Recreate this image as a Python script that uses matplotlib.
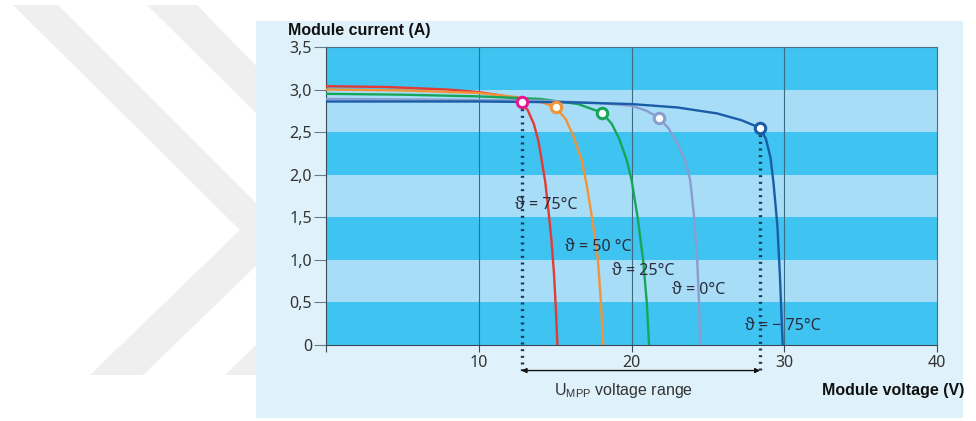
import matplotlib
matplotlib.use("Agg")
import matplotlib.pyplot as plt
from matplotlib.patches import Polygon, Rectangle

plt.rcParams['mathtext.fontset'] = 'custom'
plt.rcParams['mathtext.rm'] = 'Liberation Sans'

# I-V curves (voltage V, current A)
v_75 = [0, 4, 8, 10, 11.5, 12.3, 12.8, 13.2, 13.6, 13.9, 14.12, 14.35, 14.55, 14.75, 14.92, 15.05, 15.15]
i_75 = [3.04, 3.03, 3.00, 2.97, 2.93, 2.89, 2.85, 2.76, 2.60, 2.40, 2.17, 1.92, 1.60, 1.25, 0.85, 0.42, 0.0]

v_50 = [0, 5, 10, 13, 14.3, 15.06, 15.7, 16.2, 16.74, 17.1, 17.45, 17.8, 18.0, 18.15]
i_50 = [3.00, 2.99, 2.96, 2.90, 2.84, 2.79, 2.65, 2.45, 2.17, 1.85, 1.45, 1.0, 0.5, 0.0]

v_25 = [0, 5, 10, 14, 16.5, 18.05, 18.7, 19.2, 19.69, 20.0, 20.4, 20.76, 21.0, 21.15]
i_25 = [2.95, 2.94, 2.92, 2.89, 2.83, 2.73, 2.60, 2.42, 2.17, 1.94, 1.50, 1.0, 0.5, 0.0]

v_0 = [0, 8, 14, 18, 20, 21.0, 21.77, 22.4, 23.0, 23.5, 23.84, 24.1, 24.3, 24.42, 24.5]
i_0 = [2.89, 2.88, 2.87, 2.84, 2.81, 2.75, 2.67, 2.55, 2.37, 2.17, 1.94, 1.50, 1.0, 0.5, 0.0]

v_m75 = [0, 10, 16, 20, 23, 25.6, 27.2, 28.42, 28.8, 29.1, 29.3, 29.55, 29.72, 29.84, 29.9]
i_m75 = [2.86, 2.86, 2.85, 2.83, 2.79, 2.72, 2.64, 2.55, 2.42, 2.20, 1.90, 1.40, 0.80, 0.25, 0.0]

curve_v = [v_75, v_50, v_25, v_0, v_m75]
curve_i = [i_75, i_50, i_25, i_0, i_m75]
curve_colors = ['#e53a33', '#f39237', '#17a55a', '#8a9dd0', '#1a5ca8']
mpp_edge = ['#e2198f', '#f39237', '#17a55a', '#8a9dd0', '#1a5ca8']

# maximum power points
mpp_v = [12.8, 15.06, 18.05, 21.77, 28.42]
mpp_i = [2.85, 2.79, 2.73, 2.67, 2.55]

labels = ['ϑ = 75°C', 'ϑ = 50 °C', 'ϑ = 25°C', 'ϑ = 0°C', 'ϑ = − 75°C']
label_v = [12.4, 15.65, 18.75, 22.65, 27.45]
label_i = [1.645, 1.15, 0.87, 0.645, 0.22]

yticks = [0, 0.5, 1.0, 1.5, 2.0, 2.5, 3.0, 3.5]
ytick_labels = ['0', '0,5', '1,0', '1,5', '2,0', '2,5', '3,0', '3,5']
xticks = [0, 10, 20, 30, 40]
xtick_labels = ['', '10', '20', '30', '40']

W, H = 976, 421
fig = plt.figure(figsize=(W / 100, H / 100), dpi=100)
fig.patch.set_facecolor('white')

# background layer in pixel coordinates (watermark chevrons + panel)
bg = fig.add_axes([0, 0, 1, 1], zorder=0)
bg.set_xlim(0, W)
bg.set_ylim(H, 0)
bg.axis('off')
chev1 = [(13, 5), (58, 5), (288, 235), (143, 375), (90, 375), (240, 230)]
chev2 = [(147, 5), (197, 5), (420, 235), (277, 375), (225, 375), (374, 230)]
for pts in (chev1, chev2):
    bg.add_patch(Polygon(pts, closed=True, facecolor='#efefef', edgecolor='none'))
bg.add_patch(Rectangle((256, 21), 963 - 256, 418 - 21, facecolor='#dff1fb', edgecolor='none'))

ax = fig.add_axes([326 / W, 1 - 345 / H, (937 - 326) / W, (345 - 47) / H], zorder=1)
ax.set_xlim(0, 40)
ax.set_ylim(0, 3.5)

# horizontal bands
for k in range(7):
    col = '#3fc3f0' if k % 2 == 0 else '#a8ddf7'
    ax.axhspan(k * 0.5, (k + 1) * 0.5, color=col, lw=0, zorder=0)
for xv in [10, 20, 30]:
    ax.axvline(xv, color='#3e6b84', lw=0.8, zorder=1)

for v, i, c in zip(curve_v, curve_i, curve_colors):
    ax.plot(v, i, color=c, lw=1.7, zorder=3, solid_capstyle='butt')

# MPP range dotted lines and arrow
for k in (0, 4):
    ax.plot([mpp_v[k], mpp_v[k]], [mpp_i[k], -0.32], color='#1b3657', lw=2.4,
            linestyle=(0, (0.6, 1.4)), clip_on=False, zorder=2)
ax.annotate('', xy=(mpp_v[0], -0.30), xytext=(mpp_v[4], -0.30),
            xycoords='data', annotation_clip=False,
            arrowprops=dict(arrowstyle='<|-|>', color='#111111', lw=1.0,
                            mutation_scale=7, shrinkA=0, shrinkB=0))

for k in range(5):
    ax.plot(mpp_v[k], mpp_i[k], 'o', ms=7.5, mfc='white', mec=mpp_edge[k], mew=2.2, zorder=5)

for t, x, y in zip(labels, label_v, label_i):
    ax.text(x, y, t, ha='left', va='center', fontsize=11.5, color='#2a2c3c',
            family=['Noto Sans', 'DejaVu Sans'], zorder=4)

for s in ax.spines.values():
    s.set_color('#4d6f82')
    s.set_linewidth(0.8)
ax.spines['left'].set_color('#3a4a56')
ax.spines['bottom'].set_color('#3a4a56')

ax.set_yticks(yticks)
ax.set_yticklabels(ytick_labels)
ax.set_xticks(xticks)
ax.set_xticklabels(xtick_labels)
ax.tick_params(axis='y', length=9, width=0.8, color='#6a7a86', pad=1, labelsize=11.5,
               labelcolor='#333333')
ax.tick_params(axis='x', length=5, width=0.8, color='#3a4a56', pad=2, labelsize=11.5,
               labelcolor='#333333')
for lab in ax.get_xticklabels() + ax.get_yticklabels():
    lab.set_family(['Noto Sans', 'DejaVu Sans'])

fig.text(288 / W, 1 - 30 / H, 'Module current (A)', ha='left', va='center',
         fontsize=11.5, fontweight='bold', family='Liberation Sans', color='#111111')
fig.text(964 / W, 1 - 390 / H, 'Module voltage (V)', ha='right', va='center',
         fontsize=11.5, fontweight='bold', family='Liberation Sans', color='#111111')
fig.text(624 / W, 1 - 390 / H, r'U$_{\mathrm{MPP}}$ voltage range', ha='center', va='center',
         fontsize=11.5, family='Liberation Sans', color='#333333')

fig.savefig('out.png', dpi=100)
